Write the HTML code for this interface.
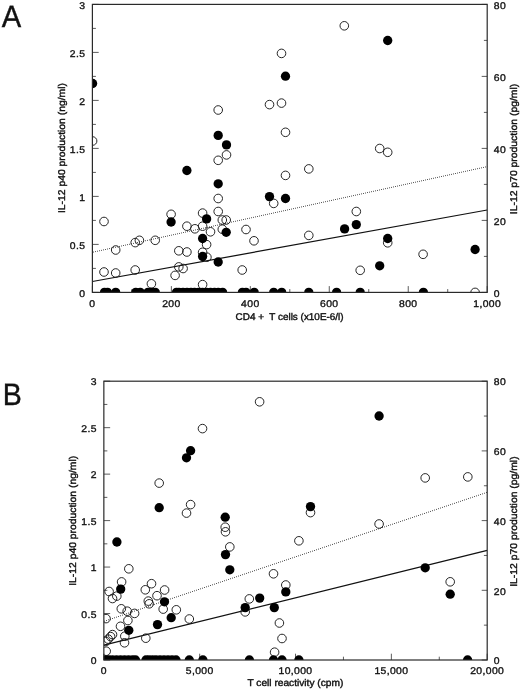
<!DOCTYPE html>
<html><head><meta charset="utf-8"><title>Figure</title>
<style>
html,body{margin:0;padding:0;background:#fff}
svg{display:block}
text{font-family:"Liberation Sans",Arial,Helvetica,sans-serif;fill:#111;text-rendering:geometricPrecision}
.tk text{stroke:#111;stroke-width:0.33px;letter-spacing:0.35px}
.ax{stroke:#111;stroke-width:0.4px}
.big{font-size:31px;stroke:#111;stroke-width:0.4px}
</style></head><body>
<svg width="520" height="690" viewBox="0 0 520 690">
<rect width="520" height="690" fill="#fff"/>
<defs>
<clipPath id="ca"><rect x="92.4" y="4.4" width="394.79999999999995" height="288.0"/></clipPath>
<clipPath id="cb"><rect x="103.85" y="381.2" width="383.35" height="278.8"/></clipPath>
</defs>
<text class="big" transform="translate(1.8 27.0) scale(0.94 1)" font-size="31">A</text>
<text class="big" transform="translate(2.8 405.0) scale(0.92 1)" font-size="31">B</text>

<!-- panel A -->
<g stroke="#333" stroke-width="0.8"><line x1="92.40" y1="292.40" x2="98.70" y2="292.40"/><line x1="92.40" y1="268.40" x2="95.90" y2="268.40"/><line x1="92.40" y1="244.40" x2="98.70" y2="244.40"/><line x1="92.40" y1="220.40" x2="95.90" y2="220.40"/><line x1="92.40" y1="196.40" x2="98.70" y2="196.40"/><line x1="92.40" y1="172.40" x2="95.90" y2="172.40"/><line x1="92.40" y1="148.40" x2="98.70" y2="148.40"/><line x1="92.40" y1="124.40" x2="95.90" y2="124.40"/><line x1="92.40" y1="100.40" x2="98.70" y2="100.40"/><line x1="92.40" y1="76.40" x2="95.90" y2="76.40"/><line x1="92.40" y1="52.40" x2="98.70" y2="52.40"/><line x1="92.40" y1="28.40" x2="95.90" y2="28.40"/><line x1="92.40" y1="4.40" x2="98.70" y2="4.40"/><line x1="487.20" y1="292.40" x2="481.70" y2="292.40"/><line x1="487.20" y1="256.40" x2="483.90" y2="256.40"/><line x1="487.20" y1="220.40" x2="481.70" y2="220.40"/><line x1="487.20" y1="184.40" x2="483.90" y2="184.40"/><line x1="487.20" y1="148.40" x2="481.70" y2="148.40"/><line x1="487.20" y1="112.40" x2="483.90" y2="112.40"/><line x1="487.20" y1="76.40" x2="481.70" y2="76.40"/><line x1="487.20" y1="40.40" x2="483.90" y2="40.40"/><line x1="487.20" y1="4.40" x2="481.70" y2="4.40"/><line x1="92.40" y1="292.40" x2="92.40" y2="286.10"/><line x1="131.88" y1="292.40" x2="131.88" y2="289.10"/><line x1="171.36" y1="292.40" x2="171.36" y2="286.10"/><line x1="210.84" y1="292.40" x2="210.84" y2="289.10"/><line x1="250.32" y1="292.40" x2="250.32" y2="286.10"/><line x1="289.80" y1="292.40" x2="289.80" y2="289.10"/><line x1="329.28" y1="292.40" x2="329.28" y2="286.10"/><line x1="368.76" y1="292.40" x2="368.76" y2="289.10"/><line x1="408.24" y1="292.40" x2="408.24" y2="286.10"/><line x1="447.72" y1="292.40" x2="447.72" y2="289.10"/><line x1="487.20" y1="292.40" x2="487.20" y2="286.10"/></g>
<g clip-path="url(#ca)">
<g fill="#444"><rect x="93" y="251.61" width="1" height="0.9"/><rect x="95" y="251.18" width="1" height="0.9"/><rect x="97" y="250.74" width="1" height="0.9"/><rect x="99" y="250.31" width="1" height="0.9"/><rect x="101" y="249.87" width="1" height="0.9"/><rect x="103" y="249.44" width="1" height="0.9"/><rect x="105" y="249.01" width="1" height="0.9"/><rect x="107" y="248.57" width="1" height="0.9"/><rect x="109" y="248.14" width="1" height="0.9"/><rect x="111" y="247.70" width="1" height="0.9"/><rect x="113" y="247.27" width="1" height="0.9"/><rect x="115" y="246.84" width="1" height="0.9"/><rect x="117" y="246.40" width="1" height="0.9"/><rect x="119" y="245.97" width="1" height="0.9"/><rect x="121" y="245.53" width="1" height="0.9"/><rect x="123" y="245.10" width="1" height="0.9"/><rect x="125" y="244.66" width="1" height="0.9"/><rect x="127" y="244.23" width="1" height="0.9"/><rect x="129" y="243.80" width="1" height="0.9"/><rect x="131" y="243.36" width="1" height="0.9"/><rect x="133" y="242.93" width="1" height="0.9"/><rect x="135" y="242.49" width="1" height="0.9"/><rect x="137" y="242.06" width="1" height="0.9"/><rect x="139" y="241.63" width="1" height="0.9"/><rect x="141" y="241.19" width="1" height="0.9"/><rect x="143" y="240.76" width="1" height="0.9"/><rect x="145" y="240.32" width="1" height="0.9"/><rect x="147" y="239.89" width="1" height="0.9"/><rect x="149" y="239.46" width="1" height="0.9"/><rect x="151" y="239.02" width="1" height="0.9"/><rect x="153" y="238.59" width="1" height="0.9"/><rect x="155" y="238.15" width="1" height="0.9"/><rect x="157" y="237.72" width="1" height="0.9"/><rect x="159" y="237.28" width="1" height="0.9"/><rect x="161" y="236.85" width="1" height="0.9"/><rect x="163" y="236.42" width="1" height="0.9"/><rect x="165" y="235.98" width="1" height="0.9"/><rect x="167" y="235.55" width="1" height="0.9"/><rect x="169" y="235.11" width="1" height="0.9"/><rect x="171" y="234.68" width="1" height="0.9"/><rect x="173" y="234.25" width="1" height="0.9"/><rect x="175" y="233.81" width="1" height="0.9"/><rect x="177" y="233.38" width="1" height="0.9"/><rect x="179" y="232.94" width="1" height="0.9"/><rect x="181" y="232.51" width="1" height="0.9"/><rect x="183" y="232.07" width="1" height="0.9"/><rect x="185" y="231.64" width="1" height="0.9"/><rect x="187" y="231.21" width="1" height="0.9"/><rect x="189" y="230.77" width="1" height="0.9"/><rect x="191" y="230.34" width="1" height="0.9"/><rect x="193" y="229.90" width="1" height="0.9"/><rect x="195" y="229.47" width="1" height="0.9"/><rect x="197" y="229.04" width="1" height="0.9"/><rect x="199" y="228.60" width="1" height="0.9"/><rect x="201" y="228.17" width="1" height="0.9"/><rect x="203" y="227.73" width="1" height="0.9"/><rect x="205" y="227.30" width="1" height="0.9"/><rect x="207" y="226.87" width="1" height="0.9"/><rect x="209" y="226.43" width="1" height="0.9"/><rect x="211" y="226.00" width="1" height="0.9"/><rect x="213" y="225.56" width="1" height="0.9"/><rect x="215" y="225.13" width="1" height="0.9"/><rect x="217" y="224.69" width="1" height="0.9"/><rect x="219" y="224.26" width="1" height="0.9"/><rect x="221" y="223.83" width="1" height="0.9"/><rect x="223" y="223.39" width="1" height="0.9"/><rect x="225" y="222.96" width="1" height="0.9"/><rect x="227" y="222.52" width="1" height="0.9"/><rect x="229" y="222.09" width="1" height="0.9"/><rect x="231" y="221.66" width="1" height="0.9"/><rect x="233" y="221.22" width="1" height="0.9"/><rect x="235" y="220.79" width="1" height="0.9"/><rect x="237" y="220.35" width="1" height="0.9"/><rect x="239" y="219.92" width="1" height="0.9"/><rect x="241" y="219.48" width="1" height="0.9"/><rect x="243" y="219.05" width="1" height="0.9"/><rect x="245" y="218.62" width="1" height="0.9"/><rect x="247" y="218.18" width="1" height="0.9"/><rect x="249" y="217.75" width="1" height="0.9"/><rect x="251" y="217.31" width="1" height="0.9"/><rect x="253" y="216.88" width="1" height="0.9"/><rect x="255" y="216.45" width="1" height="0.9"/><rect x="257" y="216.01" width="1" height="0.9"/><rect x="259" y="215.58" width="1" height="0.9"/><rect x="261" y="215.14" width="1" height="0.9"/><rect x="263" y="214.71" width="1" height="0.9"/><rect x="265" y="214.27" width="1" height="0.9"/><rect x="267" y="213.84" width="1" height="0.9"/><rect x="269" y="213.41" width="1" height="0.9"/><rect x="271" y="212.97" width="1" height="0.9"/><rect x="273" y="212.54" width="1" height="0.9"/><rect x="275" y="212.10" width="1" height="0.9"/><rect x="277" y="211.67" width="1" height="0.9"/><rect x="279" y="211.24" width="1" height="0.9"/><rect x="281" y="210.80" width="1" height="0.9"/><rect x="283" y="210.37" width="1" height="0.9"/><rect x="285" y="209.93" width="1" height="0.9"/><rect x="287" y="209.50" width="1" height="0.9"/><rect x="289" y="209.07" width="1" height="0.9"/><rect x="291" y="208.63" width="1" height="0.9"/><rect x="293" y="208.20" width="1" height="0.9"/><rect x="295" y="207.76" width="1" height="0.9"/><rect x="297" y="207.33" width="1" height="0.9"/><rect x="299" y="206.89" width="1" height="0.9"/><rect x="301" y="206.46" width="1" height="0.9"/><rect x="303" y="206.03" width="1" height="0.9"/><rect x="305" y="205.59" width="1" height="0.9"/><rect x="307" y="205.16" width="1" height="0.9"/><rect x="309" y="204.72" width="1" height="0.9"/><rect x="311" y="204.29" width="1" height="0.9"/><rect x="313" y="203.86" width="1" height="0.9"/><rect x="315" y="203.42" width="1" height="0.9"/><rect x="317" y="202.99" width="1" height="0.9"/><rect x="319" y="202.55" width="1" height="0.9"/><rect x="321" y="202.12" width="1" height="0.9"/><rect x="323" y="201.68" width="1" height="0.9"/><rect x="325" y="201.25" width="1" height="0.9"/><rect x="327" y="200.82" width="1" height="0.9"/><rect x="329" y="200.38" width="1" height="0.9"/><rect x="331" y="199.95" width="1" height="0.9"/><rect x="333" y="199.51" width="1" height="0.9"/><rect x="335" y="199.08" width="1" height="0.9"/><rect x="337" y="198.65" width="1" height="0.9"/><rect x="339" y="198.21" width="1" height="0.9"/><rect x="341" y="197.78" width="1" height="0.9"/><rect x="343" y="197.34" width="1" height="0.9"/><rect x="345" y="196.91" width="1" height="0.9"/><rect x="347" y="196.47" width="1" height="0.9"/><rect x="349" y="196.04" width="1" height="0.9"/><rect x="351" y="195.61" width="1" height="0.9"/><rect x="353" y="195.17" width="1" height="0.9"/><rect x="355" y="194.74" width="1" height="0.9"/><rect x="357" y="194.30" width="1" height="0.9"/><rect x="359" y="193.87" width="1" height="0.9"/><rect x="361" y="193.44" width="1" height="0.9"/><rect x="363" y="193.00" width="1" height="0.9"/><rect x="365" y="192.57" width="1" height="0.9"/><rect x="367" y="192.13" width="1" height="0.9"/><rect x="369" y="191.70" width="1" height="0.9"/><rect x="371" y="191.27" width="1" height="0.9"/><rect x="373" y="190.83" width="1" height="0.9"/><rect x="375" y="190.40" width="1" height="0.9"/><rect x="377" y="189.96" width="1" height="0.9"/><rect x="379" y="189.53" width="1" height="0.9"/><rect x="381" y="189.09" width="1" height="0.9"/><rect x="383" y="188.66" width="1" height="0.9"/><rect x="385" y="188.23" width="1" height="0.9"/><rect x="387" y="187.79" width="1" height="0.9"/><rect x="389" y="187.36" width="1" height="0.9"/><rect x="391" y="186.92" width="1" height="0.9"/><rect x="393" y="186.49" width="1" height="0.9"/><rect x="395" y="186.06" width="1" height="0.9"/><rect x="397" y="185.62" width="1" height="0.9"/><rect x="399" y="185.19" width="1" height="0.9"/><rect x="401" y="184.75" width="1" height="0.9"/><rect x="403" y="184.32" width="1" height="0.9"/><rect x="405" y="183.88" width="1" height="0.9"/><rect x="407" y="183.45" width="1" height="0.9"/><rect x="409" y="183.02" width="1" height="0.9"/><rect x="411" y="182.58" width="1" height="0.9"/><rect x="413" y="182.15" width="1" height="0.9"/><rect x="415" y="181.71" width="1" height="0.9"/><rect x="417" y="181.28" width="1" height="0.9"/><rect x="419" y="180.85" width="1" height="0.9"/><rect x="421" y="180.41" width="1" height="0.9"/><rect x="423" y="179.98" width="1" height="0.9"/><rect x="425" y="179.54" width="1" height="0.9"/><rect x="427" y="179.11" width="1" height="0.9"/><rect x="429" y="178.68" width="1" height="0.9"/><rect x="431" y="178.24" width="1" height="0.9"/><rect x="433" y="177.81" width="1" height="0.9"/><rect x="435" y="177.37" width="1" height="0.9"/><rect x="437" y="176.94" width="1" height="0.9"/><rect x="439" y="176.50" width="1" height="0.9"/><rect x="441" y="176.07" width="1" height="0.9"/><rect x="443" y="175.64" width="1" height="0.9"/><rect x="445" y="175.20" width="1" height="0.9"/><rect x="447" y="174.77" width="1" height="0.9"/><rect x="449" y="174.33" width="1" height="0.9"/><rect x="451" y="173.90" width="1" height="0.9"/><rect x="453" y="173.47" width="1" height="0.9"/><rect x="455" y="173.03" width="1" height="0.9"/><rect x="457" y="172.60" width="1" height="0.9"/><rect x="459" y="172.16" width="1" height="0.9"/><rect x="461" y="171.73" width="1" height="0.9"/><rect x="463" y="171.29" width="1" height="0.9"/><rect x="465" y="170.86" width="1" height="0.9"/><rect x="467" y="170.43" width="1" height="0.9"/><rect x="469" y="169.99" width="1" height="0.9"/><rect x="471" y="169.56" width="1" height="0.9"/><rect x="473" y="169.12" width="1" height="0.9"/><rect x="475" y="168.69" width="1" height="0.9"/><rect x="477" y="168.26" width="1" height="0.9"/><rect x="479" y="167.82" width="1" height="0.9"/><rect x="481" y="167.39" width="1" height="0.9"/><rect x="483" y="166.95" width="1" height="0.9"/><rect x="485" y="166.52" width="1" height="0.9"/><rect x="487" y="166.08" width="1" height="0.9"/></g>
<line x1="92.4" y1="281.5" x2="487.2" y2="210" stroke="#111" stroke-width="1.25"/>
<circle cx="92.6" cy="141" r="4.3" fill="none" stroke="#1a1a1a" stroke-width="0.95"/>
<circle cx="104" cy="221.5" r="4.3" fill="none" stroke="#1a1a1a" stroke-width="0.95"/>
<circle cx="115.7" cy="250" r="4.3" fill="none" stroke="#1a1a1a" stroke-width="0.95"/>
<circle cx="104" cy="272" r="4.3" fill="none" stroke="#1a1a1a" stroke-width="0.95"/>
<circle cx="115.7" cy="273" r="4.3" fill="none" stroke="#1a1a1a" stroke-width="0.95"/>
<circle cx="135.2" cy="242.6" r="4.3" fill="none" stroke="#1a1a1a" stroke-width="0.95"/>
<circle cx="139.4" cy="240.3" r="4.3" fill="none" stroke="#1a1a1a" stroke-width="0.95"/>
<circle cx="155.2" cy="240.3" r="4.3" fill="none" stroke="#1a1a1a" stroke-width="0.95"/>
<circle cx="135.2" cy="270" r="4.3" fill="none" stroke="#1a1a1a" stroke-width="0.95"/>
<circle cx="151.4" cy="283.8" r="4.3" fill="none" stroke="#1a1a1a" stroke-width="0.95"/>
<circle cx="171.1" cy="214.3" r="4.3" fill="none" stroke="#1a1a1a" stroke-width="0.95"/>
<circle cx="186.9" cy="226.2" r="4.3" fill="none" stroke="#1a1a1a" stroke-width="0.95"/>
<circle cx="194.9" cy="228.8" r="4.3" fill="none" stroke="#1a1a1a" stroke-width="0.95"/>
<circle cx="202.6" cy="213.1" r="4.3" fill="none" stroke="#1a1a1a" stroke-width="0.95"/>
<circle cx="202.6" cy="226.2" r="4.3" fill="none" stroke="#1a1a1a" stroke-width="0.95"/>
<circle cx="210.5" cy="231.8" r="4.3" fill="none" stroke="#1a1a1a" stroke-width="0.95"/>
<circle cx="206.6" cy="244.6" r="4.3" fill="none" stroke="#1a1a1a" stroke-width="0.95"/>
<circle cx="202.6" cy="252.3" r="4.3" fill="none" stroke="#1a1a1a" stroke-width="0.95"/>
<circle cx="206.9" cy="257.2" r="4.3" fill="none" stroke="#1a1a1a" stroke-width="0.95"/>
<circle cx="178.8" cy="250.8" r="4.3" fill="none" stroke="#1a1a1a" stroke-width="0.95"/>
<circle cx="186.9" cy="252" r="4.3" fill="none" stroke="#1a1a1a" stroke-width="0.95"/>
<circle cx="178.8" cy="266.9" r="4.3" fill="none" stroke="#1a1a1a" stroke-width="0.95"/>
<circle cx="183.1" cy="268.5" r="4.3" fill="none" stroke="#1a1a1a" stroke-width="0.95"/>
<circle cx="175.1" cy="275.4" r="4.3" fill="none" stroke="#1a1a1a" stroke-width="0.95"/>
<circle cx="202.6" cy="284.6" r="4.3" fill="none" stroke="#1a1a1a" stroke-width="0.95"/>
<circle cx="218.2" cy="211.5" r="4.3" fill="none" stroke="#1a1a1a" stroke-width="0.95"/>
<circle cx="218.2" cy="198.5" r="4.3" fill="none" stroke="#1a1a1a" stroke-width="0.95"/>
<circle cx="222.3" cy="220" r="4.3" fill="none" stroke="#1a1a1a" stroke-width="0.95"/>
<circle cx="226.2" cy="220" r="4.3" fill="none" stroke="#1a1a1a" stroke-width="0.95"/>
<circle cx="222.3" cy="229.2" r="4.3" fill="none" stroke="#1a1a1a" stroke-width="0.95"/>
<circle cx="242.2" cy="270" r="4.3" fill="none" stroke="#1a1a1a" stroke-width="0.95"/>
<circle cx="246" cy="229.5" r="4.3" fill="none" stroke="#1a1a1a" stroke-width="0.95"/>
<circle cx="254" cy="240.8" r="4.3" fill="none" stroke="#1a1a1a" stroke-width="0.95"/>
<circle cx="273.7" cy="203.4" r="4.3" fill="none" stroke="#1a1a1a" stroke-width="0.95"/>
<circle cx="308.8" cy="235.4" r="4.3" fill="none" stroke="#1a1a1a" stroke-width="0.95"/>
<circle cx="218.2" cy="110" r="4.3" fill="none" stroke="#1a1a1a" stroke-width="0.95"/>
<circle cx="226.5" cy="154.9" r="4.3" fill="none" stroke="#1a1a1a" stroke-width="0.95"/>
<circle cx="218.2" cy="160.3" r="4.3" fill="none" stroke="#1a1a1a" stroke-width="0.95"/>
<circle cx="269.5" cy="104.6" r="4.3" fill="none" stroke="#1a1a1a" stroke-width="0.95"/>
<circle cx="281.5" cy="103.1" r="4.3" fill="none" stroke="#1a1a1a" stroke-width="0.95"/>
<circle cx="285.5" cy="132.3" r="4.3" fill="none" stroke="#1a1a1a" stroke-width="0.95"/>
<circle cx="285.5" cy="175.4" r="4.3" fill="none" stroke="#1a1a1a" stroke-width="0.95"/>
<circle cx="308.8" cy="168.9" r="4.3" fill="none" stroke="#1a1a1a" stroke-width="0.95"/>
<circle cx="281.5" cy="53.4" r="4.3" fill="none" stroke="#1a1a1a" stroke-width="0.95"/>
<circle cx="344.3" cy="25.8" r="4.3" fill="none" stroke="#1a1a1a" stroke-width="0.95"/>
<circle cx="379.7" cy="148.5" r="4.3" fill="none" stroke="#1a1a1a" stroke-width="0.95"/>
<circle cx="387.7" cy="152.3" r="4.3" fill="none" stroke="#1a1a1a" stroke-width="0.95"/>
<circle cx="356.3" cy="211.5" r="4.3" fill="none" stroke="#1a1a1a" stroke-width="0.95"/>
<circle cx="360.2" cy="270.3" r="4.3" fill="none" stroke="#1a1a1a" stroke-width="0.95"/>
<circle cx="387.7" cy="242.8" r="4.3" fill="none" stroke="#1a1a1a" stroke-width="0.95"/>
<circle cx="423.1" cy="254.3" r="4.3" fill="none" stroke="#1a1a1a" stroke-width="0.95"/>
<circle cx="475.1" cy="292.4" r="4.3" fill="none" stroke="#1a1a1a" stroke-width="0.95"/>
<circle cx="92.6" cy="83.5" r="4.6499999999999995" fill="#000"/>
<circle cx="171.1" cy="222" r="4.6499999999999995" fill="#000"/>
<circle cx="206.6" cy="218.9" r="4.6499999999999995" fill="#000"/>
<circle cx="202.6" cy="238.5" r="4.6499999999999995" fill="#000"/>
<circle cx="202.6" cy="256.5" r="4.6499999999999995" fill="#000"/>
<circle cx="226.2" cy="232.3" r="4.6499999999999995" fill="#000"/>
<circle cx="218.2" cy="262" r="4.6499999999999995" fill="#000"/>
<circle cx="218.2" cy="135.4" r="4.6499999999999995" fill="#000"/>
<circle cx="226.5" cy="144.9" r="4.6499999999999995" fill="#000"/>
<circle cx="186.9" cy="170.5" r="4.6499999999999995" fill="#000"/>
<circle cx="218.2" cy="183.8" r="4.6499999999999995" fill="#000"/>
<circle cx="269.5" cy="196.6" r="4.6499999999999995" fill="#000"/>
<circle cx="285.5" cy="198.5" r="4.6499999999999995" fill="#000"/>
<circle cx="285.5" cy="76.2" r="4.6499999999999995" fill="#000"/>
<circle cx="387.7" cy="40.5" r="4.6499999999999995" fill="#000"/>
<circle cx="344.6" cy="228.9" r="4.6499999999999995" fill="#000"/>
<circle cx="356.3" cy="224.6" r="4.6499999999999995" fill="#000"/>
<circle cx="387.7" cy="238.5" r="4.6499999999999995" fill="#000"/>
<circle cx="379.7" cy="265.8" r="4.6499999999999995" fill="#000"/>
<circle cx="475.1" cy="249.5" r="4.6499999999999995" fill="#000"/>
<circle cx="104.5" cy="292.4" r="4.6499999999999995" fill="#000"/>
<circle cx="107.5" cy="292.4" r="4.6499999999999995" fill="#000"/>
<circle cx="115.7" cy="292.4" r="4.6499999999999995" fill="#000"/>
<circle cx="135.8" cy="292.4" r="4.6499999999999995" fill="#000"/>
<circle cx="140.2" cy="292.4" r="4.6499999999999995" fill="#000"/>
<circle cx="148" cy="292.4" r="4.6499999999999995" fill="#000"/>
<circle cx="151.4" cy="292.4" r="4.6499999999999995" fill="#000"/>
<circle cx="155.3" cy="292.4" r="4.6499999999999995" fill="#000"/>
<circle cx="176.5" cy="292.4" r="4.6499999999999995" fill="#000"/>
<circle cx="179" cy="292.4" r="4.6499999999999995" fill="#000"/>
<circle cx="183" cy="292.4" r="4.6499999999999995" fill="#000"/>
<circle cx="187" cy="292.4" r="4.6499999999999995" fill="#000"/>
<circle cx="191" cy="292.4" r="4.6499999999999995" fill="#000"/>
<circle cx="194.5" cy="292.4" r="4.6499999999999995" fill="#000"/>
<circle cx="198.5" cy="292.4" r="4.6499999999999995" fill="#000"/>
<circle cx="202.5" cy="292.4" r="4.6499999999999995" fill="#000"/>
<circle cx="206.5" cy="292.4" r="4.6499999999999995" fill="#000"/>
<circle cx="210.5" cy="292.4" r="4.6499999999999995" fill="#000"/>
<circle cx="214.5" cy="292.4" r="4.6499999999999995" fill="#000"/>
<circle cx="218.2" cy="292.4" r="4.6499999999999995" fill="#000"/>
<circle cx="222.6" cy="292.4" r="4.6499999999999995" fill="#000"/>
<circle cx="242.4" cy="292.4" r="4.6499999999999995" fill="#000"/>
<circle cx="246" cy="292.4" r="4.6499999999999995" fill="#000"/>
<circle cx="254.2" cy="292.4" r="4.6499999999999995" fill="#000"/>
<circle cx="273.7" cy="292.4" r="4.6499999999999995" fill="#000"/>
<circle cx="281.7" cy="292.4" r="4.6499999999999995" fill="#000"/>
<circle cx="308.8" cy="292.4" r="4.6499999999999995" fill="#000"/>
<circle cx="336.6" cy="292.4" r="4.6499999999999995" fill="#000"/>
<circle cx="360.2" cy="292.4" r="4.6499999999999995" fill="#000"/>
<circle cx="423.4" cy="292.4" r="4.6499999999999995" fill="#000"/>
</g>
<rect x="92.4" y="4.4" width="394.79999999999995" height="288.0" fill="none" stroke="#2a2a2a" stroke-width="1.2"/>
<g class="tk"><text transform="translate(85.40 296.60) scale(1.0700 1)" text-anchor="end" font-size="9.7">0</text><text transform="translate(85.40 248.60) scale(1.0700 1)" text-anchor="end" font-size="9.7">0.5</text><text transform="translate(85.40 200.60) scale(1.0700 1)" text-anchor="end" font-size="9.7">1</text><text transform="translate(85.40 152.60) scale(1.0700 1)" text-anchor="end" font-size="9.7">1.5</text><text transform="translate(85.40 104.60) scale(1.0700 1)" text-anchor="end" font-size="9.7">2</text><text transform="translate(85.40 56.60) scale(1.0700 1)" text-anchor="end" font-size="9.7">2.5</text><text transform="translate(85.40 8.60) scale(1.0700 1)" text-anchor="end" font-size="9.7">3</text><text transform="translate(493.80 296.60) scale(1.0700 1)" text-anchor="start" font-size="9.7">0</text><text transform="translate(493.80 224.60) scale(1.0700 1)" text-anchor="start" font-size="9.7">20</text><text transform="translate(493.80 152.60) scale(1.0700 1)" text-anchor="start" font-size="9.7">40</text><text transform="translate(493.80 80.60) scale(1.0700 1)" text-anchor="start" font-size="9.7">60</text><text transform="translate(493.80 8.60) scale(1.0700 1)" text-anchor="start" font-size="9.7">80</text><text transform="translate(92.40 306.70) scale(1.0700 1)" text-anchor="middle" font-size="9.7">0</text><text transform="translate(171.36 306.70) scale(1.0700 1)" text-anchor="middle" font-size="9.7">200</text><text transform="translate(250.32 306.70) scale(1.0700 1)" text-anchor="middle" font-size="9.7">400</text><text transform="translate(329.28 306.70) scale(1.0700 1)" text-anchor="middle" font-size="9.7">600</text><text transform="translate(408.24 306.70) scale(1.0700 1)" text-anchor="middle" font-size="9.7">800</text><text transform="translate(487.20 306.70) scale(1.0700 1)" text-anchor="middle" font-size="9.7">1,000</text></g>
<text class="ax" transform="translate(289.60 319.50) scale(1.0126 1)" text-anchor="middle" font-size="9.8">CD4 +&#160; T cells (x10E-6/l)</text>
<text class="ax" transform="translate(64.50 148.10) rotate(-90) scale(1.0559 1)" text-anchor="middle" font-size="9.8">IL-12 p40 production (ng/ml)</text>
<text class="ax" transform="translate(516.80 149.00) rotate(-90) scale(1.0600 1)" text-anchor="middle" font-size="9.8">IL-12 p70 production (pg/ml)</text>

<!-- panel B -->
<g stroke="#333" stroke-width="0.8"><line x1="103.85" y1="660.00" x2="110.15" y2="660.00"/><line x1="103.85" y1="636.77" x2="107.35" y2="636.77"/><line x1="103.85" y1="613.53" x2="110.15" y2="613.53"/><line x1="103.85" y1="590.30" x2="107.35" y2="590.30"/><line x1="103.85" y1="567.07" x2="110.15" y2="567.07"/><line x1="103.85" y1="543.83" x2="107.35" y2="543.83"/><line x1="103.85" y1="520.60" x2="110.15" y2="520.60"/><line x1="103.85" y1="497.37" x2="107.35" y2="497.37"/><line x1="103.85" y1="474.13" x2="110.15" y2="474.13"/><line x1="103.85" y1="450.90" x2="107.35" y2="450.90"/><line x1="103.85" y1="427.67" x2="110.15" y2="427.67"/><line x1="103.85" y1="404.43" x2="107.35" y2="404.43"/><line x1="103.85" y1="381.20" x2="110.15" y2="381.20"/><line x1="487.20" y1="660.00" x2="481.70" y2="660.00"/><line x1="487.20" y1="625.15" x2="483.90" y2="625.15"/><line x1="487.20" y1="590.30" x2="481.70" y2="590.30"/><line x1="487.20" y1="555.45" x2="483.90" y2="555.45"/><line x1="487.20" y1="520.60" x2="481.70" y2="520.60"/><line x1="487.20" y1="485.75" x2="483.90" y2="485.75"/><line x1="487.20" y1="450.90" x2="481.70" y2="450.90"/><line x1="487.20" y1="416.05" x2="483.90" y2="416.05"/><line x1="487.20" y1="381.20" x2="481.70" y2="381.20"/><line x1="103.85" y1="660.00" x2="103.85" y2="653.70"/><line x1="151.77" y1="660.00" x2="151.77" y2="656.70"/><line x1="199.69" y1="660.00" x2="199.69" y2="653.70"/><line x1="247.61" y1="660.00" x2="247.61" y2="656.70"/><line x1="295.52" y1="660.00" x2="295.52" y2="653.70"/><line x1="343.44" y1="660.00" x2="343.44" y2="656.70"/><line x1="391.36" y1="660.00" x2="391.36" y2="653.70"/><line x1="439.28" y1="660.00" x2="439.28" y2="656.70"/><line x1="487.20" y1="660.00" x2="487.20" y2="653.70"/></g>
<g clip-path="url(#cb)">
<g fill="#444"><rect x="104" y="620.73" width="1" height="0.9"/><rect x="106" y="620.06" width="1" height="0.9"/><rect x="108" y="619.38" width="1" height="0.9"/><rect x="110" y="618.71" width="1" height="0.9"/><rect x="112" y="618.04" width="1" height="0.9"/><rect x="114" y="617.36" width="1" height="0.9"/><rect x="116" y="616.69" width="1" height="0.9"/><rect x="118" y="616.02" width="1" height="0.9"/><rect x="120" y="615.34" width="1" height="0.9"/><rect x="122" y="614.67" width="1" height="0.9"/><rect x="124" y="614.00" width="1" height="0.9"/><rect x="126" y="613.32" width="1" height="0.9"/><rect x="128" y="612.65" width="1" height="0.9"/><rect x="130" y="611.98" width="1" height="0.9"/><rect x="132" y="611.30" width="1" height="0.9"/><rect x="134" y="610.63" width="1" height="0.9"/><rect x="136" y="609.95" width="1" height="0.9"/><rect x="138" y="609.28" width="1" height="0.9"/><rect x="140" y="608.61" width="1" height="0.9"/><rect x="142" y="607.93" width="1" height="0.9"/><rect x="144" y="607.26" width="1" height="0.9"/><rect x="146" y="606.59" width="1" height="0.9"/><rect x="148" y="605.91" width="1" height="0.9"/><rect x="150" y="605.24" width="1" height="0.9"/><rect x="152" y="604.57" width="1" height="0.9"/><rect x="154" y="603.89" width="1" height="0.9"/><rect x="156" y="603.22" width="1" height="0.9"/><rect x="158" y="602.55" width="1" height="0.9"/><rect x="160" y="601.87" width="1" height="0.9"/><rect x="162" y="601.20" width="1" height="0.9"/><rect x="164" y="600.53" width="1" height="0.9"/><rect x="166" y="599.85" width="1" height="0.9"/><rect x="168" y="599.18" width="1" height="0.9"/><rect x="170" y="598.50" width="1" height="0.9"/><rect x="172" y="597.83" width="1" height="0.9"/><rect x="174" y="597.16" width="1" height="0.9"/><rect x="176" y="596.48" width="1" height="0.9"/><rect x="178" y="595.81" width="1" height="0.9"/><rect x="180" y="595.14" width="1" height="0.9"/><rect x="182" y="594.46" width="1" height="0.9"/><rect x="184" y="593.79" width="1" height="0.9"/><rect x="186" y="593.12" width="1" height="0.9"/><rect x="188" y="592.44" width="1" height="0.9"/><rect x="190" y="591.77" width="1" height="0.9"/><rect x="192" y="591.10" width="1" height="0.9"/><rect x="194" y="590.42" width="1" height="0.9"/><rect x="196" y="589.75" width="1" height="0.9"/><rect x="198" y="589.07" width="1" height="0.9"/><rect x="200" y="588.40" width="1" height="0.9"/><rect x="202" y="587.73" width="1" height="0.9"/><rect x="204" y="587.05" width="1" height="0.9"/><rect x="206" y="586.38" width="1" height="0.9"/><rect x="208" y="585.71" width="1" height="0.9"/><rect x="210" y="585.03" width="1" height="0.9"/><rect x="212" y="584.36" width="1" height="0.9"/><rect x="214" y="583.69" width="1" height="0.9"/><rect x="216" y="583.01" width="1" height="0.9"/><rect x="218" y="582.34" width="1" height="0.9"/><rect x="220" y="581.67" width="1" height="0.9"/><rect x="222" y="580.99" width="1" height="0.9"/><rect x="224" y="580.32" width="1" height="0.9"/><rect x="226" y="579.65" width="1" height="0.9"/><rect x="228" y="578.97" width="1" height="0.9"/><rect x="230" y="578.30" width="1" height="0.9"/><rect x="232" y="577.62" width="1" height="0.9"/><rect x="234" y="576.95" width="1" height="0.9"/><rect x="236" y="576.28" width="1" height="0.9"/><rect x="238" y="575.60" width="1" height="0.9"/><rect x="240" y="574.93" width="1" height="0.9"/><rect x="242" y="574.26" width="1" height="0.9"/><rect x="244" y="573.58" width="1" height="0.9"/><rect x="246" y="572.91" width="1" height="0.9"/><rect x="248" y="572.24" width="1" height="0.9"/><rect x="250" y="571.56" width="1" height="0.9"/><rect x="252" y="570.89" width="1" height="0.9"/><rect x="254" y="570.22" width="1" height="0.9"/><rect x="256" y="569.54" width="1" height="0.9"/><rect x="258" y="568.87" width="1" height="0.9"/><rect x="260" y="568.20" width="1" height="0.9"/><rect x="262" y="567.52" width="1" height="0.9"/><rect x="264" y="566.85" width="1" height="0.9"/><rect x="266" y="566.17" width="1" height="0.9"/><rect x="268" y="565.50" width="1" height="0.9"/><rect x="270" y="564.83" width="1" height="0.9"/><rect x="272" y="564.15" width="1" height="0.9"/><rect x="274" y="563.48" width="1" height="0.9"/><rect x="276" y="562.81" width="1" height="0.9"/><rect x="278" y="562.13" width="1" height="0.9"/><rect x="280" y="561.46" width="1" height="0.9"/><rect x="282" y="560.79" width="1" height="0.9"/><rect x="284" y="560.11" width="1" height="0.9"/><rect x="286" y="559.44" width="1" height="0.9"/><rect x="288" y="558.77" width="1" height="0.9"/><rect x="290" y="558.09" width="1" height="0.9"/><rect x="292" y="557.42" width="1" height="0.9"/><rect x="294" y="556.75" width="1" height="0.9"/><rect x="296" y="556.07" width="1" height="0.9"/><rect x="298" y="555.40" width="1" height="0.9"/><rect x="300" y="554.72" width="1" height="0.9"/><rect x="302" y="554.05" width="1" height="0.9"/><rect x="304" y="553.38" width="1" height="0.9"/><rect x="306" y="552.70" width="1" height="0.9"/><rect x="308" y="552.03" width="1" height="0.9"/><rect x="310" y="551.36" width="1" height="0.9"/><rect x="312" y="550.68" width="1" height="0.9"/><rect x="314" y="550.01" width="1" height="0.9"/><rect x="316" y="549.34" width="1" height="0.9"/><rect x="318" y="548.66" width="1" height="0.9"/><rect x="320" y="547.99" width="1" height="0.9"/><rect x="322" y="547.32" width="1" height="0.9"/><rect x="324" y="546.64" width="1" height="0.9"/><rect x="326" y="545.97" width="1" height="0.9"/><rect x="328" y="545.30" width="1" height="0.9"/><rect x="330" y="544.62" width="1" height="0.9"/><rect x="332" y="543.95" width="1" height="0.9"/><rect x="334" y="543.27" width="1" height="0.9"/><rect x="336" y="542.60" width="1" height="0.9"/><rect x="338" y="541.93" width="1" height="0.9"/><rect x="340" y="541.25" width="1" height="0.9"/><rect x="342" y="540.58" width="1" height="0.9"/><rect x="344" y="539.91" width="1" height="0.9"/><rect x="346" y="539.23" width="1" height="0.9"/><rect x="348" y="538.56" width="1" height="0.9"/><rect x="350" y="537.89" width="1" height="0.9"/><rect x="352" y="537.21" width="1" height="0.9"/><rect x="354" y="536.54" width="1" height="0.9"/><rect x="356" y="535.87" width="1" height="0.9"/><rect x="358" y="535.19" width="1" height="0.9"/><rect x="360" y="534.52" width="1" height="0.9"/><rect x="362" y="533.84" width="1" height="0.9"/><rect x="364" y="533.17" width="1" height="0.9"/><rect x="366" y="532.50" width="1" height="0.9"/><rect x="368" y="531.82" width="1" height="0.9"/><rect x="370" y="531.15" width="1" height="0.9"/><rect x="372" y="530.48" width="1" height="0.9"/><rect x="374" y="529.80" width="1" height="0.9"/><rect x="376" y="529.13" width="1" height="0.9"/><rect x="378" y="528.46" width="1" height="0.9"/><rect x="380" y="527.78" width="1" height="0.9"/><rect x="382" y="527.11" width="1" height="0.9"/><rect x="384" y="526.44" width="1" height="0.9"/><rect x="386" y="525.76" width="1" height="0.9"/><rect x="388" y="525.09" width="1" height="0.9"/><rect x="390" y="524.42" width="1" height="0.9"/><rect x="392" y="523.74" width="1" height="0.9"/><rect x="394" y="523.07" width="1" height="0.9"/><rect x="396" y="522.39" width="1" height="0.9"/><rect x="398" y="521.72" width="1" height="0.9"/><rect x="400" y="521.05" width="1" height="0.9"/><rect x="402" y="520.37" width="1" height="0.9"/><rect x="404" y="519.70" width="1" height="0.9"/><rect x="406" y="519.03" width="1" height="0.9"/><rect x="408" y="518.35" width="1" height="0.9"/><rect x="410" y="517.68" width="1" height="0.9"/><rect x="412" y="517.01" width="1" height="0.9"/><rect x="414" y="516.33" width="1" height="0.9"/><rect x="416" y="515.66" width="1" height="0.9"/><rect x="418" y="514.99" width="1" height="0.9"/><rect x="420" y="514.31" width="1" height="0.9"/><rect x="422" y="513.64" width="1" height="0.9"/><rect x="424" y="512.97" width="1" height="0.9"/><rect x="426" y="512.29" width="1" height="0.9"/><rect x="428" y="511.62" width="1" height="0.9"/><rect x="430" y="510.94" width="1" height="0.9"/><rect x="432" y="510.27" width="1" height="0.9"/><rect x="434" y="509.60" width="1" height="0.9"/><rect x="436" y="508.92" width="1" height="0.9"/><rect x="438" y="508.25" width="1" height="0.9"/><rect x="440" y="507.58" width="1" height="0.9"/><rect x="442" y="506.90" width="1" height="0.9"/><rect x="444" y="506.23" width="1" height="0.9"/><rect x="446" y="505.56" width="1" height="0.9"/><rect x="448" y="504.88" width="1" height="0.9"/><rect x="450" y="504.21" width="1" height="0.9"/><rect x="452" y="503.54" width="1" height="0.9"/><rect x="454" y="502.86" width="1" height="0.9"/><rect x="456" y="502.19" width="1" height="0.9"/><rect x="458" y="501.52" width="1" height="0.9"/><rect x="460" y="500.84" width="1" height="0.9"/><rect x="462" y="500.17" width="1" height="0.9"/><rect x="464" y="499.49" width="1" height="0.9"/><rect x="466" y="498.82" width="1" height="0.9"/><rect x="468" y="498.15" width="1" height="0.9"/><rect x="470" y="497.47" width="1" height="0.9"/><rect x="472" y="496.80" width="1" height="0.9"/><rect x="474" y="496.13" width="1" height="0.9"/><rect x="476" y="495.45" width="1" height="0.9"/><rect x="478" y="494.78" width="1" height="0.9"/><rect x="480" y="494.11" width="1" height="0.9"/><rect x="482" y="493.43" width="1" height="0.9"/><rect x="484" y="492.76" width="1" height="0.9"/><rect x="486" y="492.09" width="1" height="0.9"/></g>
<line x1="103.85" y1="645.2" x2="487.2" y2="550.3" stroke="#111" stroke-width="1.25"/>
<circle cx="128.8" cy="568.8" r="4.3" fill="none" stroke="#1a1a1a" stroke-width="0.95"/>
<circle cx="121.6" cy="581.9" r="4.3" fill="none" stroke="#1a1a1a" stroke-width="0.95"/>
<circle cx="109.1" cy="591.5" r="4.3" fill="none" stroke="#1a1a1a" stroke-width="0.95"/>
<circle cx="112.5" cy="598.5" r="4.3" fill="none" stroke="#1a1a1a" stroke-width="0.95"/>
<circle cx="116.8" cy="596.1" r="4.3" fill="none" stroke="#1a1a1a" stroke-width="0.95"/>
<circle cx="121.3" cy="608.8" r="4.3" fill="none" stroke="#1a1a1a" stroke-width="0.95"/>
<circle cx="127.2" cy="611.2" r="4.3" fill="none" stroke="#1a1a1a" stroke-width="0.95"/>
<circle cx="134.6" cy="613.4" r="4.3" fill="none" stroke="#1a1a1a" stroke-width="0.95"/>
<circle cx="127.9" cy="620.5" r="4.3" fill="none" stroke="#1a1a1a" stroke-width="0.95"/>
<circle cx="106.0" cy="618.6" r="4.3" fill="none" stroke="#1a1a1a" stroke-width="0.95"/>
<circle cx="145.3" cy="589.8" r="4.3" fill="none" stroke="#1a1a1a" stroke-width="0.95"/>
<circle cx="151.5" cy="583.7" r="4.3" fill="none" stroke="#1a1a1a" stroke-width="0.95"/>
<circle cx="148.3" cy="601.1" r="4.3" fill="none" stroke="#1a1a1a" stroke-width="0.95"/>
<circle cx="149.2" cy="603.8" r="4.3" fill="none" stroke="#1a1a1a" stroke-width="0.95"/>
<circle cx="164.6" cy="590" r="4.3" fill="none" stroke="#1a1a1a" stroke-width="0.95"/>
<circle cx="157.0" cy="595.7" r="4.3" fill="none" stroke="#1a1a1a" stroke-width="0.95"/>
<circle cx="163.2" cy="609.1" r="4.3" fill="none" stroke="#1a1a1a" stroke-width="0.95"/>
<circle cx="176.3" cy="609.8" r="4.3" fill="none" stroke="#1a1a1a" stroke-width="0.95"/>
<circle cx="189.3" cy="619.0" r="4.3" fill="none" stroke="#1a1a1a" stroke-width="0.95"/>
<circle cx="120.5" cy="626.3" r="4.3" fill="none" stroke="#1a1a1a" stroke-width="0.95"/>
<circle cx="124.8" cy="636.2" r="4.3" fill="none" stroke="#1a1a1a" stroke-width="0.95"/>
<circle cx="124.5" cy="642.8" r="4.3" fill="none" stroke="#1a1a1a" stroke-width="0.95"/>
<circle cx="145.8" cy="638.2" r="4.3" fill="none" stroke="#1a1a1a" stroke-width="0.95"/>
<circle cx="112.5" cy="634.6" r="4.3" fill="none" stroke="#1a1a1a" stroke-width="0.95"/>
<circle cx="110.6" cy="636.6" r="4.3" fill="none" stroke="#1a1a1a" stroke-width="0.95"/>
<circle cx="108.2" cy="639.1" r="4.3" fill="none" stroke="#1a1a1a" stroke-width="0.95"/>
<circle cx="105.8" cy="641.5" r="4.3" fill="none" stroke="#1a1a1a" stroke-width="0.95"/>
<circle cx="106.2" cy="651.2" r="4.3" fill="none" stroke="#1a1a1a" stroke-width="0.95"/>
<circle cx="249.3" cy="598.9" r="4.3" fill="none" stroke="#1a1a1a" stroke-width="0.95"/>
<circle cx="245.2" cy="611.9" r="4.3" fill="none" stroke="#1a1a1a" stroke-width="0.95"/>
<circle cx="190.6" cy="504.6" r="4.3" fill="none" stroke="#1a1a1a" stroke-width="0.95"/>
<circle cx="186.5" cy="513.1" r="4.3" fill="none" stroke="#1a1a1a" stroke-width="0.95"/>
<circle cx="225.2" cy="527.2" r="4.3" fill="none" stroke="#1a1a1a" stroke-width="0.95"/>
<circle cx="225.5" cy="531.8" r="4.3" fill="none" stroke="#1a1a1a" stroke-width="0.95"/>
<circle cx="229.8" cy="546.9" r="4.3" fill="none" stroke="#1a1a1a" stroke-width="0.95"/>
<circle cx="159.2" cy="483.1" r="4.3" fill="none" stroke="#1a1a1a" stroke-width="0.95"/>
<circle cx="202.5" cy="428.6" r="4.3" fill="none" stroke="#1a1a1a" stroke-width="0.95"/>
<circle cx="259.6" cy="401.8" r="4.3" fill="none" stroke="#1a1a1a" stroke-width="0.95"/>
<circle cx="310.5" cy="512.6" r="4.3" fill="none" stroke="#1a1a1a" stroke-width="0.95"/>
<circle cx="298.9" cy="540.8" r="4.3" fill="none" stroke="#1a1a1a" stroke-width="0.95"/>
<circle cx="273.5" cy="573.8" r="4.3" fill="none" stroke="#1a1a1a" stroke-width="0.95"/>
<circle cx="285.8" cy="585" r="4.3" fill="none" stroke="#1a1a1a" stroke-width="0.95"/>
<circle cx="279.4" cy="623" r="4.3" fill="none" stroke="#1a1a1a" stroke-width="0.95"/>
<circle cx="282" cy="638.5" r="4.3" fill="none" stroke="#1a1a1a" stroke-width="0.95"/>
<circle cx="274.6" cy="652.2" r="4.3" fill="none" stroke="#1a1a1a" stroke-width="0.95"/>
<circle cx="425.2" cy="477.9" r="4.3" fill="none" stroke="#1a1a1a" stroke-width="0.95"/>
<circle cx="467.8" cy="476.9" r="4.3" fill="none" stroke="#1a1a1a" stroke-width="0.95"/>
<circle cx="379.1" cy="524" r="4.3" fill="none" stroke="#1a1a1a" stroke-width="0.95"/>
<circle cx="450.2" cy="581.8" r="4.3" fill="none" stroke="#1a1a1a" stroke-width="0.95"/>
<circle cx="120.7" cy="589.1" r="4.6499999999999995" fill="#000"/>
<circle cx="164.5" cy="601.8" r="4.6499999999999995" fill="#000"/>
<circle cx="171.2" cy="617.7" r="4.6499999999999995" fill="#000"/>
<circle cx="157.5" cy="624.6" r="4.6499999999999995" fill="#000"/>
<circle cx="128.8" cy="630.3" r="4.6499999999999995" fill="#000"/>
<circle cx="229.8" cy="569.8" r="4.6499999999999995" fill="#000"/>
<circle cx="245.2" cy="607.6" r="4.6499999999999995" fill="#000"/>
<circle cx="225.2" cy="517.2" r="4.6499999999999995" fill="#000"/>
<circle cx="225.5" cy="554.6" r="4.6499999999999995" fill="#000"/>
<circle cx="159.2" cy="507.7" r="4.6499999999999995" fill="#000"/>
<circle cx="116.9" cy="542" r="4.6499999999999995" fill="#000"/>
<circle cx="190.6" cy="450.7" r="4.6499999999999995" fill="#000"/>
<circle cx="186.5" cy="457.8" r="4.6499999999999995" fill="#000"/>
<circle cx="310.5" cy="506.6" r="4.6499999999999995" fill="#000"/>
<circle cx="259.7" cy="598.1" r="4.6499999999999995" fill="#000"/>
<circle cx="285.8" cy="591.9" r="4.6499999999999995" fill="#000"/>
<circle cx="274.3" cy="607.6" r="4.6499999999999995" fill="#000"/>
<circle cx="379.1" cy="416" r="4.6499999999999995" fill="#000"/>
<circle cx="425.2" cy="567.8" r="4.6499999999999995" fill="#000"/>
<circle cx="450.2" cy="594.2" r="4.6499999999999995" fill="#000"/>
<circle cx="106" cy="660.0" r="4.6499999999999995" fill="#000"/>
<circle cx="109" cy="660.0" r="4.6499999999999995" fill="#000"/>
<circle cx="112.5" cy="660.0" r="4.6499999999999995" fill="#000"/>
<circle cx="116.5" cy="660.0" r="4.6499999999999995" fill="#000"/>
<circle cx="120.5" cy="660.0" r="4.6499999999999995" fill="#000"/>
<circle cx="124.5" cy="660.0" r="4.6499999999999995" fill="#000"/>
<circle cx="128.5" cy="660.0" r="4.6499999999999995" fill="#000"/>
<circle cx="132.5" cy="660.0" r="4.6499999999999995" fill="#000"/>
<circle cx="135.5" cy="660.0" r="4.6499999999999995" fill="#000"/>
<circle cx="146" cy="660.0" r="4.6499999999999995" fill="#000"/>
<circle cx="149" cy="660.0" r="4.6499999999999995" fill="#000"/>
<circle cx="152.5" cy="660.0" r="4.6499999999999995" fill="#000"/>
<circle cx="156" cy="660.0" r="4.6499999999999995" fill="#000"/>
<circle cx="160" cy="660.0" r="4.6499999999999995" fill="#000"/>
<circle cx="164" cy="660.0" r="4.6499999999999995" fill="#000"/>
<circle cx="168" cy="660.0" r="4.6499999999999995" fill="#000"/>
<circle cx="172" cy="660.0" r="4.6499999999999995" fill="#000"/>
<circle cx="176" cy="660.0" r="4.6499999999999995" fill="#000"/>
<circle cx="189.3" cy="660.0" r="4.6499999999999995" fill="#000"/>
<circle cx="202.9" cy="660.0" r="4.6499999999999995" fill="#000"/>
<circle cx="249.4" cy="660.0" r="4.6499999999999995" fill="#000"/>
<circle cx="273.5" cy="660.0" r="4.6499999999999995" fill="#000"/>
<circle cx="282" cy="660.0" r="4.6499999999999995" fill="#000"/>
<circle cx="298.9" cy="660.0" r="4.6499999999999995" fill="#000"/>
<circle cx="467.6" cy="660.0" r="4.6499999999999995" fill="#000"/>
</g>
<rect x="103.85" y="381.2" width="383.35" height="278.8" fill="none" stroke="#2a2a2a" stroke-width="1.2"/>
<g class="tk"><text transform="translate(96.85 664.20) scale(1.0700 1)" text-anchor="end" font-size="9.7">0</text><text transform="translate(96.85 617.73) scale(1.0700 1)" text-anchor="end" font-size="9.7">0.5</text><text transform="translate(96.85 571.27) scale(1.0700 1)" text-anchor="end" font-size="9.7">1</text><text transform="translate(96.85 524.80) scale(1.0700 1)" text-anchor="end" font-size="9.7">1.5</text><text transform="translate(96.85 478.33) scale(1.0700 1)" text-anchor="end" font-size="9.7">2</text><text transform="translate(96.85 431.87) scale(1.0700 1)" text-anchor="end" font-size="9.7">2.5</text><text transform="translate(96.85 385.40) scale(1.0700 1)" text-anchor="end" font-size="9.7">3</text><text transform="translate(493.80 664.20) scale(1.0700 1)" text-anchor="start" font-size="9.7">0</text><text transform="translate(493.80 594.50) scale(1.0700 1)" text-anchor="start" font-size="9.7">20</text><text transform="translate(493.80 524.80) scale(1.0700 1)" text-anchor="start" font-size="9.7">40</text><text transform="translate(493.80 455.10) scale(1.0700 1)" text-anchor="start" font-size="9.7">60</text><text transform="translate(493.80 385.40) scale(1.0700 1)" text-anchor="start" font-size="9.7">80</text><text transform="translate(103.85 673.80) scale(1.0700 1)" text-anchor="middle" font-size="9.7">0</text><text transform="translate(199.69 673.80) scale(1.0700 1)" text-anchor="middle" font-size="9.7">5,000</text><text transform="translate(295.52 673.80) scale(1.0700 1)" text-anchor="middle" font-size="9.7">10,000</text><text transform="translate(391.36 673.80) scale(1.0700 1)" text-anchor="middle" font-size="9.7">15,000</text><text transform="translate(487.20 673.80) scale(1.0700 1)" text-anchor="middle" font-size="9.7">20,000</text></g>
<text class="ax" transform="translate(295.40 686.10) scale(1.0369 1)" text-anchor="middle" font-size="9.8">T cell reactivity (cpm)</text>
<text class="ax" transform="translate(76.00 520.80) rotate(-90) scale(1.0559 1)" text-anchor="middle" font-size="9.8">IL-12 p40 production (ng/ml)</text>
<text class="ax" transform="translate(516.80 521.60) rotate(-90) scale(1.0600 1)" text-anchor="middle" font-size="9.8">IL-12 p70 production (pg/ml)</text>
</svg>
</body></html>
